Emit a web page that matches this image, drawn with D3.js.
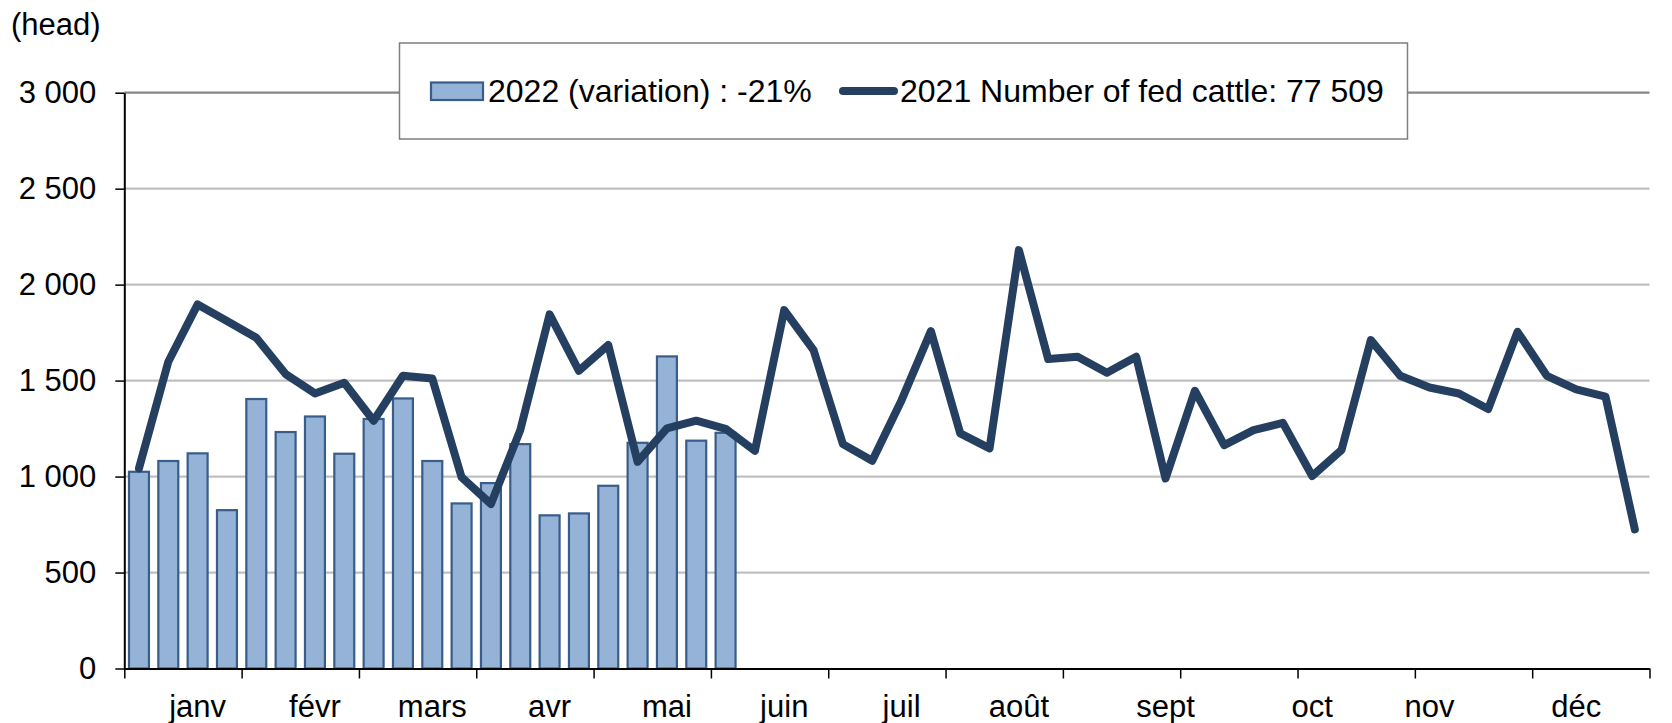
<!DOCTYPE html>
<html>
<head>
<meta charset="utf-8">
<script src="https://cdn.jsdelivr.net/npm/d3@7.9.0/dist/d3.min.js"></script>
<style>
  html, body { margin: 0; padding: 0; background: #fff; }
  svg { display: block; font-family: "Liberation Sans", Arial, sans-serif; }
</style>
</head>
<body>
<svg id="chart" width="1672" height="723"></svg>
<script>
// weeks 1..52 on a category axis
const weeks = d3.range(1, 53);

// 2022 weekly fed cattle (only first 21 weeks available)
const values2022 = [1025, 1081, 1121, 825, 1404, 1232, 1313, 1119, 1300, 1407, 1081,
  860, 966, 1169, 798, 808, 952, 1176, 1626, 1187, 1228];

// 2021 weekly fed cattle
const values2021 = [1043, 1598, 1897, 1811, 1723, 1534, 1433, 1489, 1291, 1525,
  1511, 996, 857, 1242, 1845, 1551, 1685, 1077, 1251, 1291,
  1249, 1134, 1867, 1659, 1169, 1082, 1398, 1758, 1225, 1147,
  2180, 1612, 1624, 1541, 1624, 990, 1447, 1164, 1242, 1280,
  1003, 1138, 1711, 1525, 1464, 1433, 1352, 1754, 1525, 1454,
  1416, 725];

// month labels and the week they sit under
const monthLabels = ['janv', 'févr', 'mars', 'avr', 'mai', 'juin', 'juil', 'août', 'sept', 'oct', 'nov', 'déc'];
const monthLabelWeeks = [3, 7, 11, 15, 19, 23, 27, 31, 36, 41, 45, 50];

const yTicks = [0, 500, 1000, 1500, 2000, 2500, 3000];

const legendBars = '2022 (variation) : -21%';
const legendLine = '2021 Number of fed cattle: 77 509';
const unitLabel = '(head)';

const svg = d3.select('#chart');

const plotLeft = 124.3, plotRight = 1649.5, plotTop = 92.7, plotBottom = 668.5;

const x = d3.scaleBand()
  .domain(weeks)
  .range([plotLeft, plotRight])
  .paddingInner(0.32)
  .paddingOuter(0.16);

// category boundaries, for the tick marks every 4 weeks
const xEdge = d3.scaleLinear().domain([0, weeks.length]).range([plotLeft, plotRight]);

const y = d3.scaleLinear().domain([0, 3000]).range([plotBottom, plotTop]);

const center = (w) => x(w) + x.bandwidth() / 2;

// gridlines
svg.append('g')
  .selectAll('line')
  .data(yTicks.filter(d => d > 0))
  .join('line')
  .attr('x1', plotLeft)
  .attr('x2', plotRight)
  .attr('y1', d => y(d))
  .attr('y2', d => y(d))
  .attr('stroke', d => d === 3000 ? '#868686' : '#c0c0c0')
  .attr('stroke-width', 2.2);

// bars 2022
svg.append('g')
  .selectAll('rect')
  .data(values2022)
  .join('rect')
  .attr('x', (d, i) => x(weeks[i]))
  .attr('y', d => y(d))
  .attr('width', x.bandwidth())
  .attr('height', d => y(0) - y(d))
  .attr('fill', '#95b3d7')
  .attr('stroke', '#385d8a')
  .attr('stroke-width', 2.2);

// line 2021
const line = d3.line()
  .x((d, i) => center(weeks[i]))
  .y(d => y(d));

svg.append('path')
  .datum(values2021)
  .attr('d', line)
  .attr('fill', 'none')
  .attr('stroke', '#253f60')
  .attr('stroke-width', 8)
  .attr('stroke-linejoin', 'round')
  .attr('stroke-linecap', 'round');

// y axis
const yAxis = svg.append('g')
  .attr('transform', `translate(${plotLeft},0)`)
  .call(d3.axisLeft(y)
    .tickValues(yTicks)
    .tickSize(9)
    .tickSizeOuter(0)
    .tickPadding(19)
    .tickFormat(d => d3.format(',')(d).replace(/,/g, ' ')));

yAxis.select('.domain').attr('stroke', '#000').attr('stroke-width', 2);
yAxis.selectAll('.tick line').attr('stroke', '#000').attr('stroke-width', 1.5);
yAxis.selectAll('text').attr('font-size', 31).attr('fill', '#000')
  .attr('font-family', '"Liberation Sans", Arial, sans-serif');

// x axis: tick marks
const xTickAxis = svg.append('g')
  .attr('transform', `translate(0,${plotBottom})`)
  .call(d3.axisBottom(xEdge)
    .tickValues(d3.range(0, weeks.length + 1, 4))
    .tickSize(10)
    .tickSizeOuter(0)
    .tickFormat(''));

xTickAxis.select('.domain').attr('stroke', '#000').attr('stroke-width', 2);
xTickAxis.selectAll('.tick line').attr('stroke', '#000').attr('stroke-width', 1.5);

// x axis: month labels
const xLabelAxis = svg.append('g')
  .attr('transform', `translate(0,${plotBottom})`)
  .call(d3.axisBottom(x)
    .tickValues(monthLabelWeeks)
    .tickSize(0)
    .tickPadding(26)
    .tickFormat((d, i) => monthLabels[i]));

xLabelAxis.select('.domain').remove();
xLabelAxis.selectAll('text').attr('font-size', 31).attr('fill', '#000')
  .attr('font-family', '"Liberation Sans", Arial, sans-serif');

// unit label
svg.append('text')
  .attr('x', 11)
  .attr('y', 35)
  .attr('font-size', 31)
  .text(unitLabel);

// legend
const legend = svg.append('g');
legend.append('rect')
  .attr('x', 399.5)
  .attr('y', 43)
  .attr('width', 1008)
  .attr('height', 96)
  .attr('fill', '#fff')
  .attr('stroke', '#7f7f7f')
  .attr('stroke-width', 1.5);

legend.append('rect')
  .attr('x', 431)
  .attr('y', 82.5)
  .attr('width', 52)
  .attr('height', 17.5)
  .attr('fill', '#95b3d7')
  .attr('stroke', '#385d8a')
  .attr('stroke-width', 2.2);

legend.append('text')
  .attr('x', 488)
  .attr('y', 102)
  .attr('font-size', 32)
  .text(legendBars);

legend.append('line')
  .attr('x1', 843)
  .attr('x2', 894)
  .attr('y1', 91)
  .attr('y2', 91)
  .attr('stroke', '#253f60')
  .attr('stroke-width', 8)
  .attr('stroke-linecap', 'round');

legend.append('text')
  .attr('x', 900)
  .attr('y', 102)
  .attr('font-size', 32)
  .text(legendLine);
</script>
</body>
</html>
